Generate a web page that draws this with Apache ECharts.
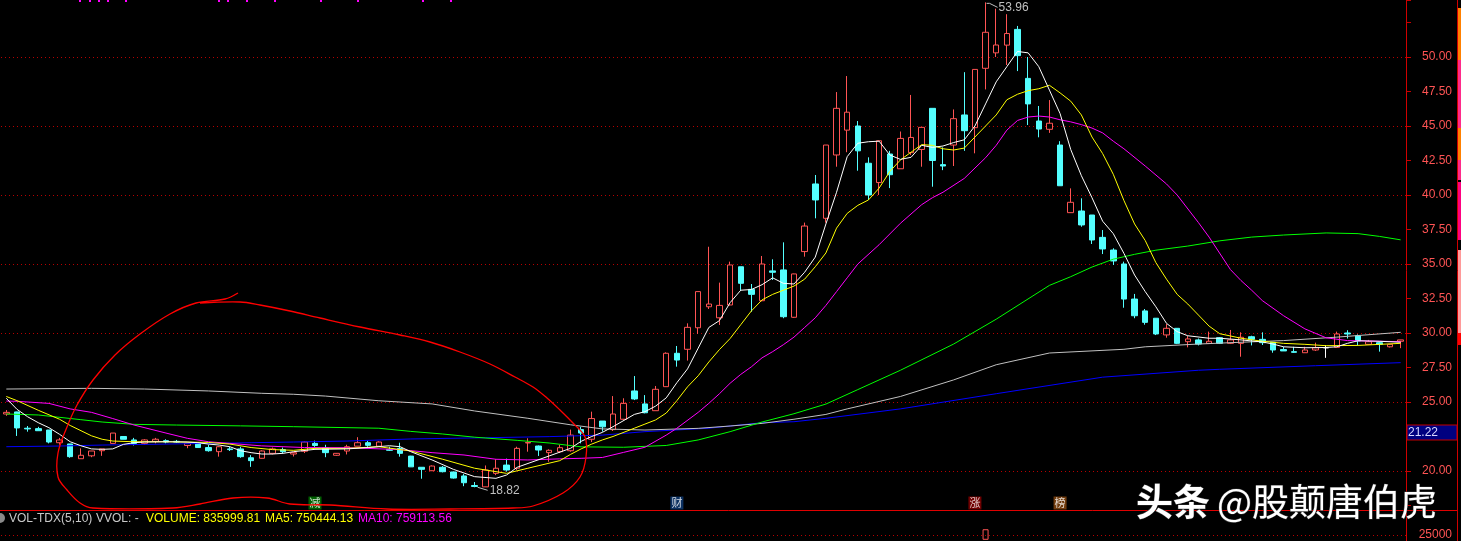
<!DOCTYPE html>
<html><head><meta charset="utf-8">
<script src="https://cdn.jsdelivr.net/npm/echarts@6/dist/echarts.min.js"></script>
<style>html,body{margin:0;padding:0;background:#000;overflow:hidden}#c{width:1461px;height:541px}</style>
</head><body><div id="c"></div>
<script>
// ---------- DATA ----------
const categories = Array.from({length: 132}, (_, i) => 'D' + (i + 1));
// [open, close, low, high]
const ohlc = [
[24.13,24.25,24.0,24.42],[24.28,23.12,22.54,24.3],[23.1,23.05,22.85,23.26],[23.07,22.92,22.92,23.2],[22.97,22.1,22.0,22.97],
[22.05,22.25,21.9,22.4],[21.96,21.04,20.96,21.96],[20.89,21.14,20.89,21.64],[21.1,21.45,21.0,21.45],[21.47,21.6,21.1,21.6],
[22.0,22.75,22.0,22.75],[22.5,22.3,22.3,22.5],[22.25,22.0,21.85,22.4],[22.0,22.25,21.9,22.3],[22.15,22.3,22.0,22.4],
[22.2,22.1,22.0,22.3],[22.15,22.1,22.05,22.25],[21.85,22.0,21.65,22.05],[21.95,21.7,21.7,22.0],[21.7,21.47,21.4,21.9],
[21.4,21.76,21.04,21.8],[21.6,21.55,21.45,21.75],[21.6,21.04,20.96,21.75],[20.96,20.75,20.3,21.15],[20.92,21.45,20.9,21.5],
[21.28,21.6,21.2,21.7],[21.55,21.4,21.3,21.7],[21.23,21.33,21.05,21.35],[21.43,22.1,21.3,22.15],[22.0,21.85,21.75,22.2],
[21.68,21.33,21.0,21.9],[21.14,21.28,21.1,21.3],[21.45,21.76,21.2,21.9],[21.8,22.05,21.8,22.45],[22.05,21.86,21.75,22.2],
[21.8,22.1,21.8,22.15],[21.55,21.5,21.45,21.76],[21.64,21.28,21.04,22.05],[21.08,20.3,20.3,21.1],[20.27,20.12,19.44,20.27],
[20.02,20.36,20.0,20.4],[20.27,19.95,19.9,20.36],[19.93,19.49,19.45,19.95],[19.64,19.15,18.9,19.78],[18.95,18.88,18.82,19.2],
[18.85,20.07,18.84,20.4],[19.83,20.2,19.7,20.85],[20.43,20.07,19.95,20.9],[20.2,21.64,20.07,21.76],[22.03,22.07,21.4,22.37],
[21.81,21.52,21.09,21.85],[21.33,21.5,20.67,21.57],[21.4,21.69,21.3,21.9],[21.47,22.6,21.4,23.0],[23.0,22.75,22.0,23.2],
[22.3,23.8,22.1,24.3],[23.62,23.2,22.85,23.62],[23.0,24.13,22.9,25.43],[23.75,24.9,23.7,25.27],[25.8,25.22,25.14,26.88],
[24.86,24.22,24.18,25.5],[24.37,25.92,24.37,26.16],[26.11,28.53,26.1,28.6],[28.53,28.04,27.56,29.06],[28.82,30.41,28.0,30.7],
[30.38,33.0,29.93,33.0],[31.9,32.1,31.74,36.25],[31.1,32.0,30.58,33.65],[32.03,34.93,32.0,35.17],[34.8,33.6,33.06,34.8],
[33.16,32.8,31.54,33.55],[32.34,35.0,32.3,35.58],[34.5,34.4,33.84,35.34],[34.57,31.18,31.07,36.57],[31.14,34.28,31.1,34.3],
[35.9,37.75,35.53,38.0],[40.8,39.64,38.31,41.45],[38.31,43.62,38.0,43.62],[42.9,46.28,42.05,47.46],[44.7,46.0,43.1,48.62],
[45.0,43.2,41.76,45.36],[42.3,40.0,39.64,42.73],[40.9,43.93,40.0,43.93],[42.97,41.47,40.5,43.2],[41.9,44.1,41.9,44.6],
[43.07,44.17,42.9,47.25],[43.3,44.9,42.05,44.9],[46.28,42.5,40.6,46.28],[42.2,42.1,41.8,43.45],[43.62,45.53,42.1,46.2],
[45.8,44.66,43.2,48.9],[44.88,49.1,43.02,49.1],[49.18,51.79,47.65,53.96],[50.3,50.87,50.0,53.5],[50.86,51.7,49.42,53.1],
[52.0,50.1,48.98,52.25],[48.45,46.6,45.07,50.0],[45.36,44.78,44.18,46.45],[44.76,45.2,44.5,46.88],[43.62,40.67,40.67,43.9],
[38.72,39.47,38.72,40.48],[38.84,37.83,37.7,39.76],[38.55,36.74,36.45,38.55],[36.93,36.09,35.72,37.46],[36.01,35.22,34.93,36.14],
[35.0,32.46,31.83,35.17],[32.46,31.25,31.07,32.83],[31.6,30.77,30.6,31.74],[31.07,29.93,29.85,31.07],[29.86,30.34,29.66,30.65],
[30.34,29.25,29.2,30.34],[29.37,29.57,28.96,29.78],[29.5,29.2,29.1,29.6],[29.25,29.4,29.2,30.1],[29.66,29.25,29.2,29.7],
[29.25,29.5,29.2,30.22],[29.25,29.69,28.28,30.05],[29.73,29.54,29.1,29.8],[29.54,29.3,29.13,30.05],[29.33,28.77,28.57,29.33],
[28.8,28.7,28.7,29.0],[28.65,28.6,28.57,29.0],[28.57,28.77,28.57,29.0],[28.77,28.93,28.7,29.3],[28.93,28.93,28.2,29.13],
[28.96,29.93,28.96,30.1],[30.0,29.93,29.6,30.2],[29.8,29.42,29.13,29.9],[29.18,29.37,29.18,29.5],[29.3,29.18,28.65,29.4],
[29.0,29.18,28.95,29.2],[29.4,29.5,28.9,29.5]
];
// moving averages: [dayIndex, value]
const ma5 = [[0,25.27],[1,24.47],[2,23.93],[3,23.5],[4,23.14],[5,22.66],[6,22.12],[7,21.83],[8,21.6],[9,21.57],[10,21.6],[11,21.93],[12,22.05],[13,22.1],[15,22.12],[17,22.1],[18,22.05],[19,21.95],[20,21.88],[21,21.76],[22,21.47],[23,21.33],[24,21.23],[25,21.23],[26,21.28],[27,21.4],[29,21.57],[32,21.6],[34,21.7],[36,21.83],[37,21.76],[38,21.4],[40,20.8],[42,20.12],[44,19.59],[46,19.47],[47,19.71],[48,20.27],[51,21.09],[53,21.64],[54,22.15],[55,22.5],[56,22.8],[57,23.21],[59,24.1],[60,24.3],[61,24.7],[62,25.3],[63,26.4],[64,27.4],[65,28.9],[66,30.4],[67,30.9],[68,32.2],[69,33.1],[70,33.15],[71,33.5],[72,34.0],[73,33.6],[74,33.55],[75,34.4],[76,35.5],[77,37.9],[78,40.2],[79,42.78],[80,43.75],[81,43.86],[82,43.9],[83,42.9],[84,42.58],[85,42.73],[86,43.6],[87,43.45],[88,43.55],[89,43.8],[90,44.0],[91,45.0],[92,46.6],[93,48.2],[94,49.3],[95,50.4],[96,50.3],[97,49.3],[98,47.6],[99,45.9],[100,43.3],[101,41.4],[102,39.8],[103,38.1],[104,37.2],[105,35.77],[106,34.2],[107,33.0],[108,31.9],[109,30.7],[110,30.1],[111,29.8],[113,29.62],[114,29.62],[116,29.5],[118,29.35],[119,29.2],[120,29.0],[122,28.93],[124,28.95],[125,29.0],[126,29.25],[127,29.44],[129,29.4],[131,29.33]];
const ma10 = [[0,25.4],[1,25.1],[3,24.4],[5,23.75],[6,23.3],[8,22.55],[9,22.3],[10,22.17],[12,22.12],[15,22.12],[19,22.07],[21,21.95],[23,21.7],[25,21.55],[27,21.5],[29,21.64],[32,21.64],[35,21.76],[38,21.45],[41,20.85],[44,20.2],[47,19.83],[49,20.2],[52,20.75],[53,21.2],[54,21.6],[55,21.95],[56,22.25],[57,22.5],[59,23.1],[60,23.4],[61,23.7],[62,24.2],[63,25.1],[64,26.1],[65,26.9],[66,27.9],[67,28.8],[68,29.6],[69,30.6],[70,31.6],[71,32.4],[72,32.8],[73,33.1],[74,33.4],[75,33.9],[76,34.8],[77,35.8],[78,37.6],[79,38.67],[80,39.25],[81,39.64],[82,40.5],[83,41.7],[84,42.54],[85,43.1],[86,43.65],[87,43.6],[88,43.35],[89,43.26],[90,43.4],[91,44.2],[92,45.0],[93,45.8],[94,46.9],[95,47.3],[96,47.56],[97,47.7],[98,47.95],[99,47.4],[100,46.8],[101,45.8],[102,44.2],[103,43.0],[104,41.5],[105,39.6],[106,37.9],[107,36.7],[108,35.1],[109,33.9],[110,32.8],[111,32.1],[112,31.3],[113,30.5],[114,29.95],[116,29.62],[118,29.4],[120,29.25],[122,29.18],[124,29.08],[127,29.1],[131,29.25]];
const ma20 = [[0,25.07],[1,25.05],[4,24.9],[6,24.5],[8,24.25],[10,23.8],[12,23.33],[15,22.75],[17,22.37],[19,22.12],[21,22.0],[24,21.82],[28,21.7],[32,21.69],[37,21.55],[40,21.33],[43,21.16],[46,20.85],[49,20.8],[52,20.88],[54,20.92],[56,20.98],[58,21.35],[60,21.72],[62,22.6],[63,23.1],[65,24.25],[66,24.9],[67,25.6],[68,26.36],[69,27.0],[70,27.55],[71,28.2],[72,28.65],[73,29.15],[74,29.7],[75,30.4],[76,31.1],[77,32.0],[78,33.0],[79,34.0],[80,35.0],[82,36.4],[84,37.95],[86,39.3],[87,39.8],[88,40.2],[90,41.2],[92,42.7],[93,43.6],[94,44.7],[95,45.4],[96,45.65],[97,45.72],[98,45.65],[99,45.45],[100,45.3],[101,45.1],[102,44.85],[103,44.5],[104,43.9],[105,43.35],[107,42.1],[109,40.8],[110,40.0],[112,38.0],[113,36.95],[115,34.6],[116,33.8],[117,33.1],[118,32.35],[120,31.25],[122,30.3],[124,29.65],[126,29.45],[131,29.37]];
const ma60 = [[0,24.13],[3,24.06],[7,23.72],[9,23.55],[12,23.38],[16,23.33],[22,23.27],[27,23.21],[35,23.1],[38,22.87],[41,22.68],[44,22.45],[48,22.22],[51,22.03],[54,21.75],[58,21.72],[62,21.85],[65,22.25],[68,22.85],[71,23.55],[74,24.15],[77,24.85],[80,25.9],[84,27.3],[89,29.2],[93,31.0],[98,33.45],[100,34.08],[102,34.78],[104,35.35],[106,35.7],[108,36.0],[111,36.3],[114,36.68],[117,36.95],[120,37.1],[124,37.25],[127,37.2],[129,37.0],[131,36.75]];
const ma120 = [[0,25.94],[8,25.99],[13,25.94],[19,25.8],[24,25.63],[27,25.56],[30,25.43],[35,25.09],[40,24.86],[44,24.35],[49,23.82],[53,23.35],[56,23.05],[60,22.97],[65,23.09],[68,23.26],[71,23.45],[74,23.75],[77,24.1],[79,24.5],[84,25.4],[89,26.6],[93,27.7],[98,28.55],[105,28.82],[107,29.0],[112,29.2],[116,29.33],[120,29.45],[125,29.7],[131,30.05]];
const ma250 = [[0,21.76],[5,21.81],[9,21.88],[23,22.05],[27,22.1],[32,22.17],[38,22.32],[45,22.41],[51,22.49],[56,22.6],[60,22.85],[66,23.1],[71,23.5],[74,23.57],[77,23.82],[84,24.5],[93,25.6],[103,26.8],[112,27.3],[114,27.37],[123,27.63],[131,27.85]];
const yTicks = {min: 17.5, max: 54.13, step: 2.5};
const gridLevels = [20, 25, 30, 35, 40, 45, 50];
const markerIdx = [29, 63, 91, 99];
const markerText = ['减', '财', '涨', '榜'];
const markerBg = ['#007800', '#0e3c78', '#8c0000', '#8c4a10'];
const markerLevel = 17.68;
const volTicks = {min: 0, max: 150000, step: 25000, shown: 25000};
const volumeVisible = categories.map((_, i) => i === 92 ? 55000 : null);
const volLegend = ['VOL-TDX(5,10)', 'VVOL: -', 'VOLUME: 835999.81', 'MA5: 750444.13', 'MA10: 759113.56'];
const lastPriceText = '21.22';
const topDotsX = [79, 89, 98, 107, 125, 218, 227, 246, 274, 320, 357, 422, 450];
// hand-drawn annotation loop (screen pixels)
const loopPts = [[238,293],[225,299],[196,303],[170,314],[140,334],[115,355],[93,380],[77,405],[67,427],[58,453],[58,477],[67,490],[80,503],[93,508],[173,508],[200,504],[233,498],[267,498],[290,504],[330,505],[387,509],[450,509],[513,508],[533,506],[563,493],[580,477],[586,457],[585,437],[573,423],[560,410],[547,398],[533,387],[515,377],[490,364],[460,352],[430,342],[400,335],[360,327],[320,318],[290,311],[260,305],[240,302],[200,303]];

// ---------- CHART ----------
const chart = echarts.init(document.getElementById('c'));
const axisColor = '#c80000';
const lineSeries = (name, data, color) => ({
  name, type: 'line', data, xAxisIndex: 0, yAxisIndex: 0, showSymbol: false, symbol: 'none',
  lineStyle: {color, width: 1}, z: 5, silent: true
});
const option = {
  backgroundColor: '#000',
  animation: false,
  grid: [
    {left: 1, right: 55, top: 0, bottom: 35.5},
    {left: 1, right: 55, top: 511, bottom: 0}
  ],
  xAxis: [0, 1].map(g => ({
    type: 'category', data: categories, gridIndex: g, boundaryGap: true,
    axisLine: {show: false}, axisTick: {show: false}, axisLabel: {show: false}, splitLine: {show: false}
  })),
  yAxis: [
    {type: 'value', gridIndex: 0, position: 'right', min: yTicks.min, max: yTicks.max, interval: yTicks.step,
     axisLine: {show: false}, axisTick: {show: true, length: 5, lineStyle: {color: axisColor}},
     axisLabel: {color: '#ff5454', fontSize: 12, fontFamily: 'Liberation Sans, Arial', margin: 46, align: 'right',
       formatter: v => (v < 19 || v > 52) ? '' : v.toFixed(2)},
     splitLine: {show: false}},
    {type: 'value', gridIndex: 1, position: 'right', min: volTicks.min, max: volTicks.max, interval: volTicks.step,
     axisLine: {show: false}, axisTick: {show: false},
     axisLabel: {color: '#ff5454', fontSize: 12, fontFamily: 'Liberation Sans, Arial', margin: 46, align: 'right',
       formatter: v => v === volTicks.shown ? String(v) : ''},
     splitLine: {show: false}}
  ],
  series: [
    {type: 'candlestick', data: ohlc, xAxisIndex: 0, yAxisIndex: 0, barWidth: 6, z: 3, silent: true,
     itemStyle: {color: '#000000', color0: '#54ffff', borderColor: '#ff5454', borderColor0: '#54ffff',
                 borderColorDoji: '#ffffff', borderWidth: 1},
     markLine: {silent: true, symbol: 'none', label: {show: false}, z: 1,
       lineStyle: {color: '#b80000', type: [1, 3], width: 1},
       data: gridLevels.map(v => ({yAxis: v}))}},
    lineSeries('MA250', ma250, '#0000ff'),
    lineSeries('MA120', ma120, '#c0c0c0'),
    lineSeries('MA60', ma60, '#00ff00'),
    lineSeries('MA20', ma20, '#ff00ff'),
    lineSeries('MA10', ma10, '#ffff00'),
    lineSeries('MA5', ma5, '#ffffff'),
    {type: 'scatter', xAxisIndex: 0, yAxisIndex: 0, symbol: 'rect', symbolSize: 13, z: 8, silent: true,
     data: markerIdx.map((d, k) => ({value: [d, markerLevel], itemStyle: {color: markerBg[k]},
       label: {show: true, position: 'inside', formatter: markerText[k], color: '#fff', fontSize: 11,
               fontFamily: 'Noto Sans CJK SC'}}))},
    {type: 'bar', xAxisIndex: 1, yAxisIndex: 1, data: volumeVisible, barWidth: 6, silent: true,
     itemStyle: {color: '#000', borderColor: '#ff5454', borderWidth: 1},
     markLine: {silent: true, symbol: 'none', label: {show: false},
       lineStyle: {color: '#b80000', type: [1, 3], width: 1}, data: [{yAxis: volTicks.shown}]}}
  ]
};
chart.setOption(option);

// extreme labels from the data
let hi = 0, lo = 0;
ohlc.forEach((d, i) => { if (d[3] > ohlc[hi][3]) hi = i; if (d[2] < ohlc[lo][2]) lo = i; });
const pHi = chart.convertToPixel({gridIndex: 0}, [hi, ohlc[hi][3]]);
const pLo = chart.convertToPixel({gridIndex: 0}, [lo, ohlc[lo][2]]);

const g = [];
// frame lines
g.push({type: 'line', z: 50, shape: {x1: 1406.5, y1: 0, x2: 1406.5, y2: 541}, style: {stroke: '#d00000', lineWidth: 1}});
g.push({type: 'line', z: 50, shape: {x1: 1457.5, y1: 0, x2: 1457.5, y2: 541}, style: {stroke: '#d00000', lineWidth: 1}});
g.push({type: 'line', z: 50, shape: {x1: 0, y1: 510.5, x2: 1457, y2: 510.5}, style: {stroke: '#e00000', lineWidth: 1}});
// right strip
[[8,60,'#ff8000'],[60,128,'#ff2a8a'],[128,160,'#ff8000'],[160,180,'#ff2a8a'],[182,240,'#ff0080'],[250,333,'#ff9a9a'],[333,345,'#ff0000']]
  .forEach(s => g.push({type: 'rect', z: 50, shape: {x: 1458, y: s[0], width: 3, height: s[1] - s[0]}, style: {fill: s[2]}}));
// top dots
topDotsX.forEach(x => g.push({type: 'rect', z: 50, shape: {x: x, y: 0, width: 2, height: 2}, style: {fill: '#ff00ff'}}));
// annotation loop
g.push({type: 'polyline', z: 40, shape: {points: loopPts, smooth: 0.35}, style: {stroke: '#ff0000', lineWidth: 1.3, fill: null}});
// extremes
g.push({type: 'polyline', z: 45, shape: {points: [[pHi[0] + 1, pHi[1] + 1], [pHi[0] + 4, pHi[1] + 1], [pHi[0] + 12, pHi[1] + 5]]}, style: {stroke: '#c0c0c0', lineWidth: 1, fill: null}});
g.push({type: 'text', z: 45, x: pHi[0] + 13, y: pHi[1] + 5, style: {text: ohlc[hi][3].toFixed(2), fill: '#c0c0c0', font: '12px "Liberation Sans", Arial', verticalAlign: 'middle'}});
g.push({type: 'polyline', z: 45, shape: {points: [[pLo[0] + 3, pLo[1]], [pLo[0] + 13, pLo[1] + 3]]}, style: {stroke: '#c0c0c0', lineWidth: 1, fill: null}});
g.push({type: 'text', z: 45, x: pLo[0] + 15, y: pLo[1] + 3, style: {text: ohlc[lo][2].toFixed(2), fill: '#c0c0c0', font: '12px "Liberation Sans", Arial', verticalAlign: 'middle'}});
// price box
g.push({type: 'rect', z: 60, shape: {x: 1407, y: 425, width: 50, height: 15}, style: {fill: '#000080', stroke: '#c00000', lineWidth: 1}});
g.push({type: 'text', z: 61, x: 1408, y: 432.5, style: {text: lastPriceText, fill: '#d8d8ff', font: '12px "Liberation Sans", Arial', verticalAlign: 'middle'}});
// volume legend
g.push({type: 'circle', z: 50, shape: {cx: 0, cy: 518, r: 5}, style: {fill: '#8a8a8a'}});
const legX = [9, 96, 146, 265, 358];
const legC = ['#c8c8c8', '#c8c8c8', '#ffff00', '#ffff00', '#ff00ff'];
volLegend.forEach((t, k) => g.push({type: 'text', z: 50, x: legX[k], y: 518.5,
  style: {text: t, fill: legC[k], font: '12px "Liberation Sans", Arial', verticalAlign: 'middle'}}));
// watermark
g.push({type: 'text', z: 70, x: 1136, y: 502, style: {text: '头条', fill: '#ffffff', font: 'bold 37px "Noto Sans CJK SC"', verticalAlign: 'middle', stroke: '#333', lineWidth: 1}});
g.push({type: 'text', z: 70, x: 1217, y: 502, style: {text: '@股颠唐伯虎', fill: '#ffffff', font: '37px "Noto Sans CJK SC"', verticalAlign: 'middle', stroke: '#333', lineWidth: 1}});

chart.setOption({graphic: g});
</script>
</body></html>
